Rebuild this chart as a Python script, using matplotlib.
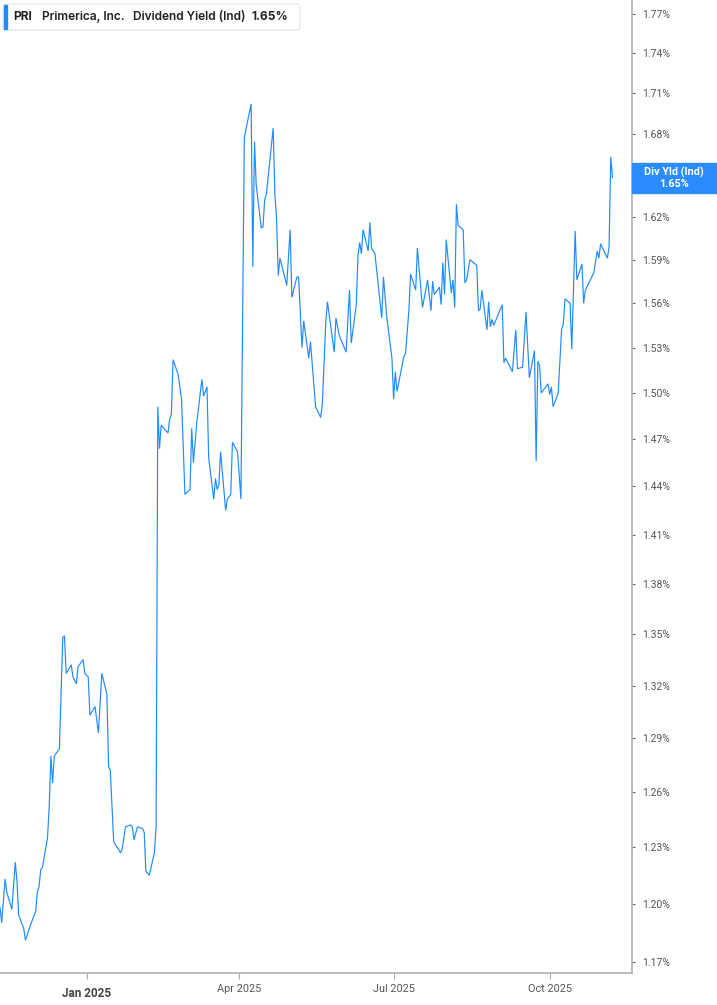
import matplotlib
matplotlib.use("Agg")
import matplotlib.pyplot as plt
from matplotlib.patches import Rectangle, FancyBboxPatch
from matplotlib.ticker import NullLocator, NullFormatter, FuncFormatter
import pandas as pd

# ---- data ----
dates = [
    "2024-11-11", "2024-11-12", "2024-11-14", "2024-11-15", "2024-11-18", "2024-11-20",
    "2024-11-21", "2024-11-22", "2024-11-25", "2024-11-26", "2024-11-29", "2024-12-02",
    "2024-12-03", "2024-12-04", "2024-12-05", "2024-12-06", "2024-12-09", "2024-12-10",
    "2024-12-11", "2024-12-12", "2024-12-13", "2024-12-16", "2024-12-18", "2024-12-19",
    "2024-12-20", "2024-12-23", "2024-12-24", "2024-12-26", "2024-12-27", "2024-12-30",
    "2024-12-31",
    "2025-01-02", "2025-01-03", "2025-01-06", "2025-01-08", "2025-01-10", "2025-01-13",
    "2025-01-14", "2025-01-15", "2025-01-17", "2025-01-21", "2025-01-22", "2025-01-24",
    "2025-01-27", "2025-01-28", "2025-01-29", "2025-01-31",
    "2025-02-03", "2025-02-04", "2025-02-05", "2025-02-07", "2025-02-10", "2025-02-11",
    "2025-02-12", "2025-02-13", "2025-02-14", "2025-02-18", "2025-02-19", "2025-02-20",
    "2025-02-21", "2025-02-24", "2025-02-26", "2025-02-28",
    "2025-03-03", "2025-03-04", "2025-03-05", "2025-03-07", "2025-03-10", "2025-03-11",
    "2025-03-13", "2025-03-14", "2025-03-17", "2025-03-18", "2025-03-19", "2025-03-20",
    "2025-03-21", "2025-03-24", "2025-03-25", "2025-03-27", "2025-03-28", "2025-03-31",
    "2025-04-02", "2025-04-04", "2025-04-08", "2025-04-09", "2025-04-10", "2025-04-11",
    "2025-04-14", "2025-04-15", "2025-04-16", "2025-04-17", "2025-04-21", "2025-04-22",
    "2025-04-23", "2025-04-24", "2025-04-25", "2025-04-28", "2025-04-29",
    "2025-05-01", "2025-05-02", "2025-05-05", "2025-05-06", "2025-05-08", "2025-05-09",
    "2025-05-12", "2025-05-13", "2025-05-16", "2025-05-19", "2025-05-20", "2025-05-22",
    "2025-05-23", "2025-05-27", "2025-05-28", "2025-05-30",
    "2025-06-03", "2025-06-05", "2025-06-06", "2025-06-09", "2025-06-10", "2025-06-11",
    "2025-06-12", "2025-06-13", "2025-06-16", "2025-06-17", "2025-06-18", "2025-06-20",
    "2025-06-24", "2025-06-25", "2025-06-27", "2025-06-30",
    "2025-07-01", "2025-07-02", "2025-07-03", "2025-07-07", "2025-07-08", "2025-07-10",
    "2025-07-11", "2025-07-14", "2025-07-15", "2025-07-18", "2025-07-21", "2025-07-23",
    "2025-07-24", "2025-07-25", "2025-07-28", "2025-07-29", "2025-07-30", "2025-07-31",
    "2025-08-01", "2025-08-04", "2025-08-05", "2025-08-06", "2025-08-07", "2025-08-08",
    "2025-08-11", "2025-08-12", "2025-08-13", "2025-08-15", "2025-08-19", "2025-08-20",
    "2025-08-21", "2025-08-22", "2025-08-25", "2025-08-26", "2025-08-27", "2025-08-28",
    "2025-08-29",
    "2025-09-03", "2025-09-04", "2025-09-05", "2025-09-09", "2025-09-11", "2025-09-12",
    "2025-09-15", "2025-09-17", "2025-09-19", "2025-09-22", "2025-09-23", "2025-09-24",
    "2025-09-25", "2025-09-26", "2025-09-30",
    "2025-10-01", "2025-10-02", "2025-10-03", "2025-10-06", "2025-10-08", "2025-10-09",
    "2025-10-10", "2025-10-13", "2025-10-14", "2025-10-16", "2025-10-17", "2025-10-20",
    "2025-10-21", "2025-10-22", "2025-10-27", "2025-10-29", "2025-10-30", "2025-10-31",
    "2025-11-04", "2025-11-05", "2025-11-06", "2025-11-07",
]
yield_pct = [
    1.198, 1.190, 1.213, 1.206, 1.197, 1.222,
    1.212, 1.194, 1.187, 1.181, 1.189, 1.196,
    1.206, 1.209, 1.218, 1.219, 1.235, 1.252,
    1.280, 1.265, 1.280, 1.284, 1.348, 1.349,
    1.327, 1.332, 1.325, 1.321, 1.331, 1.335,
    1.327,
    1.325, 1.303, 1.308, 1.293, 1.327, 1.315,
    1.274, 1.272, 1.233, 1.227, 1.229, 1.241,
    1.242, 1.241, 1.234, 1.241,
    1.240, 1.238, 1.217, 1.215, 1.227, 1.241,
    1.491, 1.464, 1.479, 1.474, 1.483, 1.486,
    1.522, 1.512, 1.496, 1.435,
    1.438, 1.477, 1.455, 1.481, 1.509, 1.498,
    1.504, 1.458, 1.432, 1.445, 1.438, 1.441,
    1.462, 1.425, 1.432, 1.435, 1.468, 1.462,
    1.432, 1.677, 1.702, 1.585, 1.674, 1.643,
    1.612, 1.613, 1.632, 1.636, 1.684, 1.636,
    1.619, 1.579, 1.591, 1.577, 1.572,
    1.611, 1.564, 1.578, 1.578, 1.530, 1.548,
    1.523, 1.534, 1.491, 1.484, 1.493, 1.547,
    1.561, 1.527, 1.550, 1.538,
    1.527, 1.569, 1.533, 1.559, 1.593, 1.602,
    1.594, 1.611, 1.596, 1.616, 1.598, 1.594,
    1.550, 1.578, 1.550, 1.523,
    1.496, 1.514, 1.501, 1.524, 1.526, 1.555,
    1.580, 1.569, 1.598, 1.557, 1.576, 1.555,
    1.575, 1.566, 1.571, 1.559, 1.588, 1.566,
    1.604, 1.567, 1.576, 1.557, 1.629, 1.614,
    1.611, 1.574, 1.576, 1.590, 1.586, 1.555,
    1.556, 1.569, 1.542, 1.561, 1.544, 1.549,
    1.545,
    1.559, 1.520, 1.523, 1.514, 1.542, 1.516,
    1.517, 1.554, 1.510, 1.528, 1.456, 1.521,
    1.518, 1.500, 1.506,
    1.499, 1.504, 1.491, 1.500, 1.542, 1.546,
    1.563, 1.560, 1.529, 1.610, 1.576, 1.587,
    1.560, 1.569, 1.581, 1.596, 1.591, 1.601,
    1.591, 1.599, 1.663, 1.648,
]
y_ticks = [1.17, 1.20, 1.23, 1.26, 1.29, 1.32, 1.35, 1.38, 1.41, 1.44, 1.47,
           1.50, 1.53, 1.56, 1.59, 1.62, 1.65, 1.68, 1.71, 1.74, 1.77]
hidden_tick = 1.65   # its label sits under the value tag in the reference
major_x = ["2025-01-01"]
major_x_labels = ["Jan 2025"]
minor_x = ["2025-04-01", "2025-07-01", "2025-10-01"]
minor_x_labels = ["Apr 2025", "Jul 2025", "Oct 2025"]
ticker = "PRI"
company = "Primerica, Inc."
metric = "Dividend Yield (Ind)"
current_label = "1.65%"
tag_title = "Div Yld (Ind)"

BLUE = "#1f8bff"
W, H = 717, 1005

fig = plt.figure(figsize=(W / 100, H / 100), dpi=100)
fig.patch.set_facecolor("white")
ax = fig.add_axes([0, 32 / H, 632 / W, 973 / H])

x = pd.to_datetime(dates)
ax.plot(x, yield_pct, color=BLUE, lw=0.85, solid_joinstyle="miter")

ax.set_yscale("log")
ax.set_ylim(1.1642, 1.781)
ax.set_xlim(pd.Timestamp("2024-11-11"), pd.Timestamp("2025-11-18 12:00"))

ax.yaxis.tick_right()
ax.yaxis.set_minor_locator(NullLocator())
ax.yaxis.set_minor_formatter(NullFormatter())
ax.set_yticks(y_ticks)
ax.yaxis.set_major_formatter(
    FuncFormatter(lambda v, p: "" if abs(v - hidden_tick) < 1e-6 else f"{v:.2f}%"))
ax.tick_params(axis="y", which="major", length=2.5, width=0.8, color="#666666",
               pad=5, labelsize=7.5, labelcolor="#555555")
for lab in ax.get_yticklabels():
    lab.set_family("Roboto")

ax.set_xticks(pd.to_datetime(major_x), labels=major_x_labels)
ax.set_xticks(pd.to_datetime(minor_x), labels=minor_x_labels, minor=True)
ax.tick_params(axis="x", which="major", length=4, width=0.8, color="#aaaaaa",
               pad=6, labelsize=8.5, labelcolor="#444444")
ax.tick_params(axis="x", which="minor", length=4, width=0.8, color="#aaaaaa",
               pad=4, labelsize=7.8, labelcolor="#555555")
for lab in ax.get_xticklabels():
    lab.set_family("Roboto")
    lab.set_fontweight("bold")
for lab in ax.get_xticklabels(minor=True):
    lab.set_family("Roboto")

for s in ("left", "top"):
    ax.spines[s].set_visible(False)
for s in ("right", "bottom"):
    ax.spines[s].set_color("#b0b0b0")
    ax.spines[s].set_linewidth(1.2)

# legend box (top-left)
fig.patches.append(FancyBboxPatch((3 / W, 1 - 30 / H), 297 / W, 26 / H,
                                  boxstyle="round,pad=0,rounding_size=0.004",
                                  transform=fig.transFigure, fc="white",
                                  ec="#e4e4e4", lw=0.8, zorder=5))
fig.patches.append(Rectangle((4 / W, 1 - 29 / H), 3 / W, 24 / H,
                             transform=fig.transFigure, color=BLUE, zorder=6))
ty = 1 - 17 / H
common = dict(va="center", ha="left", family="Inter", color="#222222", size=8.6, zorder=7)
fig.text(13 / W, ty, ticker, weight="bold", **common)
fig.text(42 / W, ty, company, weight="semibold", **common)
fig.text(133 / W, ty, metric, weight="semibold", **common)
fig.text(251 / W, ty, current_label, weight="bold", **common)

# value tag on the right axis at the last value
ypix = ax.transData.transform((ax.get_xlim()[0], yield_pct[-1]))[1]
yc = ypix / H
fig.patches.append(Rectangle((632 / W, yc - 15 / H), 85 / W, 30 / H,
                             transform=fig.transFigure, color="#2a8cff", zorder=8))
fig.text(674 / W, yc + 5.5 / H, tag_title, ha="center", va="center", color="white",
         weight="bold", size=7.8, family="Roboto", zorder=9)
fig.text(674 / W, yc - 6 / H, current_label, ha="center", va="center", color="white",
         weight="bold", size=7.8, family="Roboto", zorder=9)

fig.savefig("out.png", dpi=100, facecolor="white")
